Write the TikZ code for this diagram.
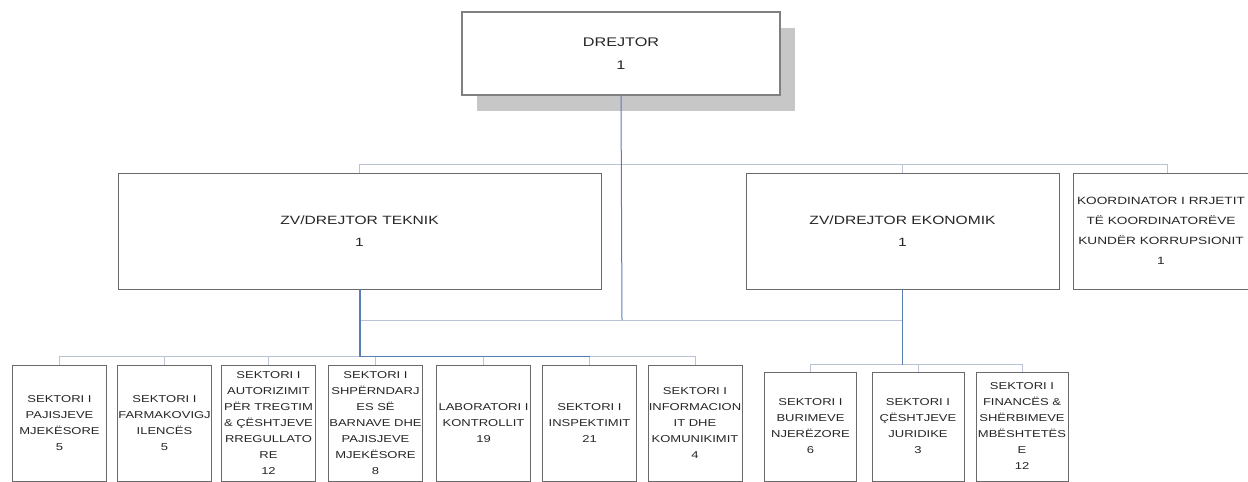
\documentclass[tikz,border=0pt]{standalone}
\usepackage{fontspec}
\newfontfamily\orgfont[FakeStretch=1.3]{Liberation Sans}
\usetikzlibrary{shadows}
\definecolor{linkblue}{HTML}{5A7DB3}
\definecolor{linkgray}{HTML}{B9C3D3}
\definecolor{boxline}{HTML}{6A6A6A}

\begin{document}
\begin{tikzpicture}[x=1pt,y=-1pt,
                    box/.style={draw=boxline,line width=0.8pt,fill=white,align=center,inner sep=0pt,
                                text=black!85,font=\orgfont\fontsize{12}{22}\selectfont},
                    headbox/.style={box,draw=gray,line width=2.2pt,minimum width=318pt,minimum height=83pt,
                                    font=\orgfont\fontsize{12.5}{23}\selectfont,
                                    drop shadow={shadow xshift=15pt,shadow yshift=-16pt,fill=black!22,opacity=1}},
                    secbox/.style={box,minimum width=94pt,font=\orgfont\fontsize{10}{16}\selectfont},
                    link/.style={draw=linkgray,line width=0.8pt},
                    mainlink/.style={draw=linkblue,line width=1pt}]
\clip (0,0) rectangle (1248,482);
\fill[white] (0,0) rectangle (1248,482);
\node[headbox] (drejtor) at (621,53.5) {DREJTOR\\1};
\node[box,minimum width=483pt,minimum height=116pt] (teknik) at (359.5,231) {ZV/DREJTOR TEKNIK\\1};
\node[box,minimum width=313pt,minimum height=116pt] (ekonomik) at (902.5,231) {ZV/DREJTOR EKONOMIK\\1};
\node[box,minimum width=176pt,minimum height=116pt,font=\orgfont\fontsize{10.5}{20}\selectfont] (koordinator) at (1161,231)
     {KOORDINATOR I RRJETIT\\TË KOORDINATORËVE\\KUNDËR KORRUPSIONIT\\1};
\foreach \name/\cx/\txt in {s1/59.5/{SEKTORI I\\PAJISJEVE\\MJEKËSORE\\5},
                           s2/164.5/{SEKTORI I\\FARMAKOVIGJ\\ILENCËS\\5},
                           s3/268.5/{SEKTORI I\\AUTORIZIMIT\\PËR TREGTIM\\\& ÇËSHTJEVE\\RREGULLATO\\RE\\12},
                           s4/375.5/{SEKTORI I\\SHPËRNDARJ\\ES SË\\BARNAVE DHE\\PAJISJEVE\\MJEKËSORE\\8},
                           s5/483.5/{LABORATORI I\\KONTROLLIT\\19},
                           s6/589.5/{SEKTORI I\\INSPEKTIMIT\\21},
                           s7/695/{SEKTORI I\\INFORMACION\\IT DHE\\KOMUNIKIMIT\\4}}
    \node[secbox,minimum height=116pt] (\name) at (\cx,423) {\txt};
\foreach \name/\cx/\txt in {e1/810.5/{SEKTORI I\\BURIMEVE\\NJERËZORE\\6},
                           e2/918/{SEKTORI I\\ÇËSHTJEVE\\JURIDIKE\\3},
                           e3/1022/{SEKTORI I\\FINANCËS \&\\SHËRBIMEVE\\MBËSHTETËS\\E\\12}}
    \node[secbox,minimum width=92pt,minimum height=109pt] (\name) at (\cx,426.5) {\txt};
\coordinate (hub) at (622,320);
\path (s1.north) ++(0,-8) coordinate (busa);
\path (e1.north) ++(0,-7) coordinate (busb);
\draw[link] (teknik.north) -- ++(0,-8) -| ([xshift=6pt]koordinator.north);
\draw[link] (ekonomik.north) -- ++(0,-8);
\draw[link] (teknik.south |- hub) -- (ekonomik.south |- hub);
\draw[mainlink] (drejtor.south) -- (hub);
\draw[link] (s1.north) -- (busa) -| (s7.north);
\foreach \i in {2,...,6}
    \draw[link] (s\i.north) -- (s\i.north |- busa);
\draw[mainlink] (teknik.south |- busa) -- (s6.north |- busa);
\draw[mainlink,line width=2pt] (teknik.south) -- (teknik.south |- busa);
\draw[link] (e1.north) -- (busb) -| (e3.north);
\draw[link] (e2.north) -- (e2.north |- busb);
\draw[mainlink] (ekonomik.south) -- (ekonomik.south |- busb);
\end{tikzpicture}
\end{document}
